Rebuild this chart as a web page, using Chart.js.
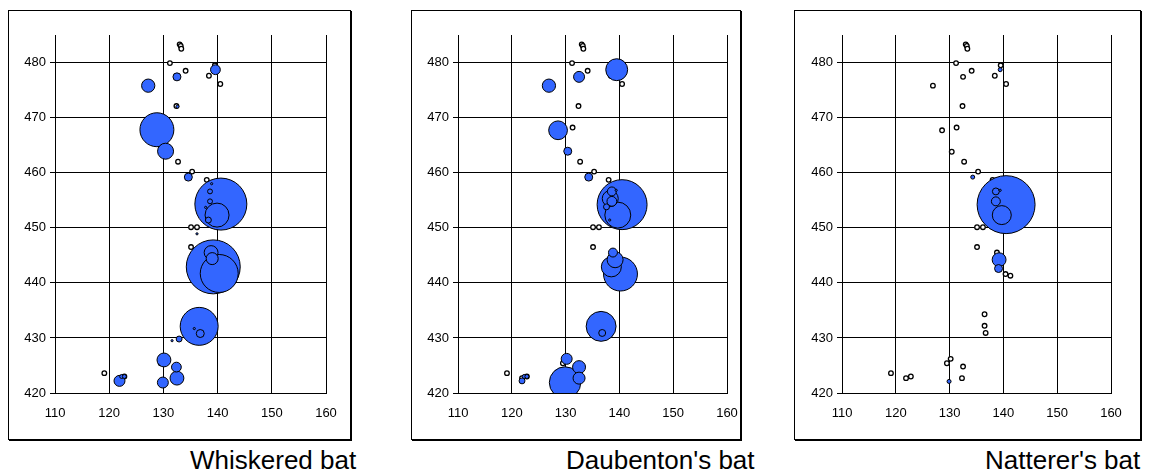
<!DOCTYPE html>
<html>
<head>
<meta charset="utf-8">
<script src="https://cdn.jsdelivr.net/npm/chart.js@4.4.1/dist/chart.umd.min.js"></script>
<style>
  html, body { margin: 0; padding: 0; background: #fff; }
  body { width: 1149px; height: 474px; position: relative; overflow: hidden; font-family: "Liberation Sans", Arial, sans-serif; }
  canvas { position: absolute; }
  .frame { position: absolute; box-sizing: border-box; border: 1px solid #000;
           box-shadow: 1px 1px 0 #000; pointer-events: none; }
  .caption { position: absolute; font-size: 26px; line-height: 26px; color: #000; white-space: nowrap; }
</style>
</head>
<body>
<div class="frame" style="left:8px;top:10px;width:343px;height:430px;"></div>
<div class="frame" style="left:411px;top:10px;width:330px;height:430px;"></div>
<div class="frame" style="left:794px;top:10px;width:347px;height:430px;"></div>
<canvas id="c1" width="353" height="440" style="left:8px;top:0;"></canvas>
<canvas id="c2" width="351" height="440" style="left:411px;top:0;"></canvas>
<canvas id="c3" width="352" height="440" style="left:794px;top:0;"></canvas>
<div class="caption" style="left:190px;top:447px;">Whiskered bat</div>
<div class="caption" style="left:566px;top:447px;">Daubenton's bat</div>
<div class="caption" style="left:985px;top:447px;">Natterer's bat</div>
<script>
// Axis ticks
const xTicks = [110, 120, 130, 140, 150, 160];
const yTicks = [420, 430, 440, 450, 460, 470, 480];

// Survey sites (small open markers)
const siteX = [133.0,133.2,133.3,131.2,134.1,132.5,138.4,139.5,140.5,126.9,
               132.4,128.6,131.3,130.4,132.7,135.3,138.0,138.6,138.6,135.1,
               136.2,135.1,138.8,140.4,141.3,136.5,136.5,136.7,119.1,121.9,
               122.8,129.5,130.2,132.5,132.3];
const siteY = [483.3,483.0,482.5,479.9,478.5,477.4,477.6,479.5,476.1,475.8,
               472.1,467.7,468.2,463.8,462.0,460.2,458.7,456.6,454.8,450.1,
               450.1,446.5,445.5,441.6,441.3,434.3,432.2,430.9,423.6,422.7,
               423.0,425.4,426.2,424.8,422.7];

// Whiskered bat records
const whiskeredX = [139.2,140.6,140.3,136.6,128.8,139.9,130.4,138.8,139.0,127.2,
                    130.1,132.5,129.9,121.9,132.4,139.6,132.5,134.6,136.8,132.9,
                    138.3,122.3,122.8,132.6,138.9,137.8,136.2,135.7,131.6,138.6,138.6];
const whiskeredY = [442.9,454.3,441.7,432.1,467.8,452.3,463.9,445.5,444.4,475.8,
                    426.0,422.7,421.9,422.2,424.7,478.7,477.4,459.2,430.8,429.8,
                    451.4,423.0,423.0,472.0,458.0,453.7,448.9,431.7,429.5,456.6,454.8];
const whiskeredN = [182,169,90,90,72,36,16,12,9,11,
                    12,12,7.5,7.5,6,6,4,4,4,2.2,
                    2.2,1,1,0.6,0.3,0.3,0.3,0.3,0.3,1.5,1.5];

// Daubenton's bat records
const daubentonX = [140.5,140.2,129.9,136.6,139.7,139.5,138.5,128.6,139.2,138.3,
                    126.9,132.5,132.5,130.2,132.5,138.6,138.6,138.8,130.4,134.3,
                    136.8,137.6,121.9,122.3,122.8,138.2,139.4];
const daubentonY = [454.2,441.6,421.9,432.1,452.3,478.7,442.9,467.7,444.2,455.3,
                    475.8,424.7,422.7,426.2,477.4,456.6,454.8,445.5,463.9,459.2,
                    430.9,453.8,422.2,423.0,423.0,451.4,456.8];
const daubentonN = [156,72,62,56,42,30,25,22,16,16,
                    11,10.5,9,7.5,7.5,5,6,5,4,4,
                    3,2.2,2.2,1,1,0.3,0.3];

// Natterer's bat records
const nattererX = [140.5,139.7,139.2,138.6,139.1,138.6,139.4,134.3,129.9,139.4];
const nattererY = [454.2,452.3,444.2,454.8,442.6,456.6,478.7,459.2,422.1,456.8];
const nattererN = [210,22.5,12,5,4,3,1,1,1,0.3];

const FONT = { family: "'Liberation Sans', Arial, sans-serif", size: 13 };
const BLUE = '#3366FF';

// bubble area proportional to the count
function radiusFor(n) { return 2 * Math.sqrt(n); }

function records(xs, ys, ns) {
  return xs.map((x, i) => ({ x: x, y: ys[i], r: radiusFor(ns[i]), n: ns[i] }))
           .sort((a, b) => b.n - a.n); // large bubbles behind small ones
}

function sites() {
  return siteX.map((x, i) => ({ x: x, y: siteY[i], r: 2.3 }));
}

function makeChart(id, xs, ys, ns, pad) {
  return new Chart(document.getElementById(id), {
    type: 'bubble',
    data: {
      datasets: [
        { data: sites(), backgroundColor: '#fff', borderColor: '#000', borderWidth: 1.3, order: 1 },
        { data: records(xs, ys, ns), backgroundColor: BLUE, borderColor: '#000', borderWidth: 1, order: 0 }
      ]
    },
    options: {
      responsive: false,
      animation: false,
      events: [],
      layout: { padding: { left: 0, right: pad.right, top: 35, bottom: 0 } },
      plugins: { legend: { display: false }, tooltip: { enabled: false } },
      scales: {
        x: {
          type: 'linear', min: 110, max: 160,
          ticks: { stepSize: 10, color: '#000', font: FONT, padding: 13, includeBounds: false },
          grid: { color: '#000', lineWidth: 1, drawTicks: false },
          border: { color: '#000', width: 1 },
          afterBuildTicks: s => { s.ticks = xTicks.map(v => ({ value: v })); },
          afterFit: s => { s.height = 47; }
        },
        y: {
          type: 'linear', min: 420, max: 485,
          ticks: { stepSize: 10, color: '#000', font: FONT, padding: 4, includeBounds: false },
          grid: { color: '#000', lineWidth: 1, tickLength: 5 },
          border: { color: '#000', width: 1 },
          afterBuildTicks: s => { s.ticks = yTicks.map(v => ({ value: v })); },
          afterFit: s => { s.width = pad.left; }
        }
      }
    }
  });
}

makeChart('c1', whiskeredX, whiskeredY, whiskeredN, { left: 47, right: 35 });
makeChart('c2', daubentonX, daubentonY, daubentonN, { left: 47, right: 35 });
makeChart('c3', nattererX, nattererY, nattererN, { left: 48, right: 35 });
</script>
</body>
</html>
